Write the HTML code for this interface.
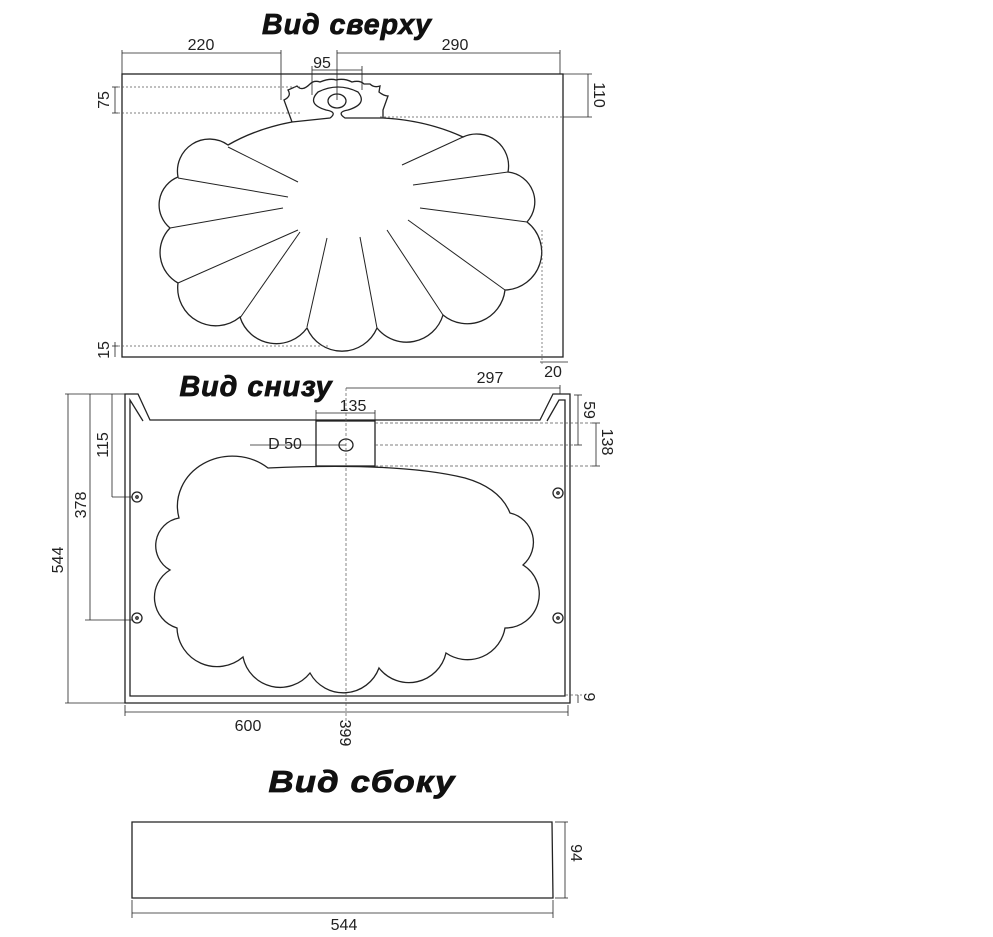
<!DOCTYPE html>
<html><head><meta charset="utf-8"><style>
html,body{margin:0;padding:0;background:#fff;}
svg{display:block;}
text{font-family:"Liberation Sans",sans-serif;fill:#222;}
.t{font-weight:bold;font-style:italic;font-size:29px;fill:#111;stroke:#111;stroke-width:0.8;letter-spacing:1px;}
.d{font-size:16px;}
</style></head><body>
<svg width="993" height="937" viewBox="0 0 993 937" xmlns="http://www.w3.org/2000/svg">
<g fill="none" stroke="#222" stroke-width="1.3">
<!-- TOP VIEW -->
<rect x="122" y="74" width="441" height="283"/>
<path d="M292,122 A170,120 0 0 0 228,145 A32,32 0 0 0 178,177 A30,30 0 0 0 170,228 A35,35 0 0 0 178,283 A38,38 0 0 0 240,317 A38,38 0 0 0 307,328 A38,38 0 0 0 377,328 A38,38 0 0 0 443,315 A38,38 0 0 0 505,290 A38,38 0 0 0 527,222 A30,30 0 0 0 508,172 A32,32 0 0 0 463,137 A170,120 0 0 0 383,118 L345,118 Q336,112 348,110 Q368,104 358,92 Q338,82 318,92 Q306,104 326,110 Q338,112 330,118 Z"/>
<path d="M292,122 L284,100 Q292,96 288,90 L297,86 Q302,92 310,84 Q314,80 320,82 Q330,78 336,80 Q344,78 352,82 Q360,80 364,84 L370,84 Q374,88 380,86 L379,92 Q384,96 388,96 L383,110 L383,118"/>
<ellipse cx="337" cy="101" rx="9" ry="7"/>
<g stroke-width="1">
<line x1="228" y1="147" x2="298" y2="182"/><line x1="178" y1="178" x2="288" y2="197"/>
<line x1="170" y1="228" x2="283" y2="208"/><line x1="178" y1="283" x2="298" y2="230"/>
<line x1="240" y1="318" x2="300" y2="232"/><line x1="307" y1="327" x2="327" y2="238"/>
<line x1="377" y1="328" x2="360" y2="237"/><line x1="443" y1="315" x2="387" y2="230"/>
<line x1="505" y1="290" x2="408" y2="220"/><line x1="527" y1="222" x2="420" y2="208"/>
<line x1="508" y1="172" x2="413" y2="185"/><line x1="463" y1="137" x2="402" y2="165"/>
</g>
<g stroke-width="0.8">
<line x1="122" y1="53" x2="281" y2="53"/><line x1="122" y1="50" x2="122" y2="74"/><line x1="281" y1="50" x2="281" y2="100"/>
<line x1="337" y1="53" x2="560" y2="53"/><line x1="560" y1="50" x2="560" y2="74"/><line x1="337" y1="50" x2="337" y2="100"/>
<line x1="312" y1="70" x2="362" y2="70"/><line x1="312" y1="66" x2="312" y2="95"/><line x1="362" y1="66" x2="362" y2="90"/>
<line x1="588" y1="74" x2="588" y2="117"/><line x1="563" y1="74" x2="592" y2="74"/><line x1="563" y1="117" x2="592" y2="117"/>
<line x1="115" y1="87" x2="115" y2="113"/><line x1="112" y1="87" x2="118" y2="87"/><line x1="112" y1="113" x2="118" y2="113"/>
<line x1="115" y1="342" x2="115" y2="357"/><line x1="112" y1="346" x2="118" y2="346"/>
<line x1="540" y1="362" x2="568" y2="362"/>
</g>
<g stroke-width="0.7" stroke-dasharray="2,2" stroke="#555">
<line x1="118" y1="87" x2="300" y2="87"/><line x1="118" y1="113" x2="300" y2="113"/>
<line x1="380" y1="117" x2="563" y2="117"/><line x1="118" y1="346" x2="330" y2="346"/>
<line x1="542" y1="230" x2="542" y2="365"/>
</g>
<!-- BOTTOM VIEW -->
<path d="M125,703 L125,394 L138,394 L150,420 L540,420 L553,394 L570,394 L570,703 Z"/>
<path d="M143,421 L130,400 L130,696 L565,696 L565,400 L559,400 L547,421"/>
<rect x="316" y="421" width="59" height="45"/>
<ellipse cx="346" cy="445" rx="7" ry="6"/>
<path d="M268,468 A55,50 0 0 0 179,518 A28,28 0 0 0 170,570 A32,32 0 0 0 177,628 A40,40 0 0 0 243,657 A38,38 0 0 0 310,673 A38,38 0 0 0 379,668 A38,38 0 0 0 446,653 A38,38 0 0 0 505,628 A34,34 0 0 0 523,565 A30,30 0 0 0 510,513 Q500,488 465,478 Q400,462 268,468 Z"/>
<circle cx="137" cy="497" r="5"/><circle cx="137" cy="618" r="5"/>
<circle cx="558" cy="493" r="5"/><circle cx="558" cy="618" r="5"/>
<circle cx="137" cy="497" r="1.2"/><circle cx="137" cy="618" r="1.2"/>
<circle cx="558" cy="493" r="1.2"/><circle cx="558" cy="618" r="1.2"/>
<g stroke-width="0.8">
<line x1="346" y1="388" x2="560" y2="388"/><line x1="560" y1="385" x2="560" y2="394"/>
<line x1="316" y1="413" x2="375" y2="413"/><line x1="316" y1="410" x2="316" y2="421"/><line x1="375" y1="410" x2="375" y2="421"/>
<line x1="250" y1="445" x2="346" y2="445"/>
<line x1="578" y1="395" x2="578" y2="445"/><line x1="574" y1="395" x2="582" y2="395"/><line x1="574" y1="445" x2="582" y2="445"/>
<line x1="596" y1="423" x2="596" y2="466"/><line x1="592" y1="423" x2="600" y2="423"/><line x1="592" y1="466" x2="600" y2="466"/>
<line x1="112" y1="394" x2="112" y2="497"/><line x1="112" y1="497" x2="132" y2="497"/>
<line x1="90" y1="394" x2="90" y2="620"/><line x1="85" y1="620" x2="132" y2="620"/>
<line x1="68" y1="394" x2="68" y2="703"/><line x1="65" y1="394" x2="125" y2="394"/><line x1="65" y1="703" x2="125" y2="703"/>
<line x1="578" y1="695" x2="578" y2="703"/>
<line x1="125" y1="712" x2="568" y2="712"/><line x1="125" y1="705" x2="125" y2="716"/><line x1="568" y1="705" x2="568" y2="716"/>
</g>
<g stroke-width="0.7" stroke-dasharray="3,2" stroke="#555">
<line x1="346" y1="388" x2="346" y2="745"/>
<line x1="375" y1="423" x2="600" y2="423"/><line x1="375" y1="445" x2="582" y2="445"/><line x1="375" y1="466" x2="600" y2="466"/>
<line x1="565" y1="695" x2="582" y2="695"/>
</g>
<!-- SIDE VIEW -->
<path d="M132,822 L552,822 L553,898 L132,898 Z"/>
<g stroke-width="0.8">
<line x1="565" y1="822" x2="565" y2="898"/><line x1="555" y1="822" x2="568" y2="822"/><line x1="555" y1="898" x2="568" y2="898"/>
<line x1="132" y1="913" x2="553" y2="913"/><line x1="132" y1="900" x2="132" y2="918"/><line x1="553" y1="900" x2="553" y2="918"/>
</g>
</g>
<text class="t" x="347" y="34" text-anchor="middle" textLength="170" lengthAdjust="spacingAndGlyphs">Вид сверху</text>
<text class="t" x="256" y="396" text-anchor="middle" textLength="153" lengthAdjust="spacingAndGlyphs">Вид снизу</text>
<text class="t" x="362" y="792" text-anchor="middle" style="font-size:31px" textLength="187" lengthAdjust="spacingAndGlyphs">Вид сбоку</text>
<g class="d">
<text x="201" y="50" text-anchor="middle" class="d">220</text>
<text x="455" y="50" text-anchor="middle" class="d">290</text>
<text x="322" y="68" text-anchor="middle" class="d">95</text>
<text transform="translate(594,95) rotate(90)" text-anchor="middle" class="d">110</text>
<text transform="translate(109,100) rotate(-90)" text-anchor="middle" class="d">75</text>
<text transform="translate(109,350) rotate(-90)" text-anchor="middle" class="d">15</text>
<text x="553" y="377" text-anchor="middle" class="d">20</text>
<text x="490" y="383" text-anchor="middle" class="d">297</text>
<text x="353" y="411" text-anchor="middle" class="d">135</text>
<text x="285" y="449" text-anchor="middle" class="d">D 50</text>
<text transform="translate(584,410) rotate(90)" text-anchor="middle" class="d">59</text>
<text transform="translate(602,442) rotate(90)" text-anchor="middle" class="d">138</text>
<text transform="translate(108,445) rotate(-90)" text-anchor="middle" class="d">115</text>
<text transform="translate(86,505) rotate(-90)" text-anchor="middle" class="d">378</text>
<text transform="translate(63,560) rotate(-90)" text-anchor="middle" class="d">544</text>
<text transform="translate(584,697) rotate(90)" text-anchor="middle" class="d">9</text>
<text x="248" y="731" text-anchor="middle" class="d">600</text>
<text transform="translate(340,733) rotate(90)" text-anchor="middle" class="d">399</text>
<text transform="translate(571,853) rotate(90)" text-anchor="middle" class="d">94</text>
<text x="344" y="930" text-anchor="middle" class="d">544</text>
</g>
</svg>
</body></html>
